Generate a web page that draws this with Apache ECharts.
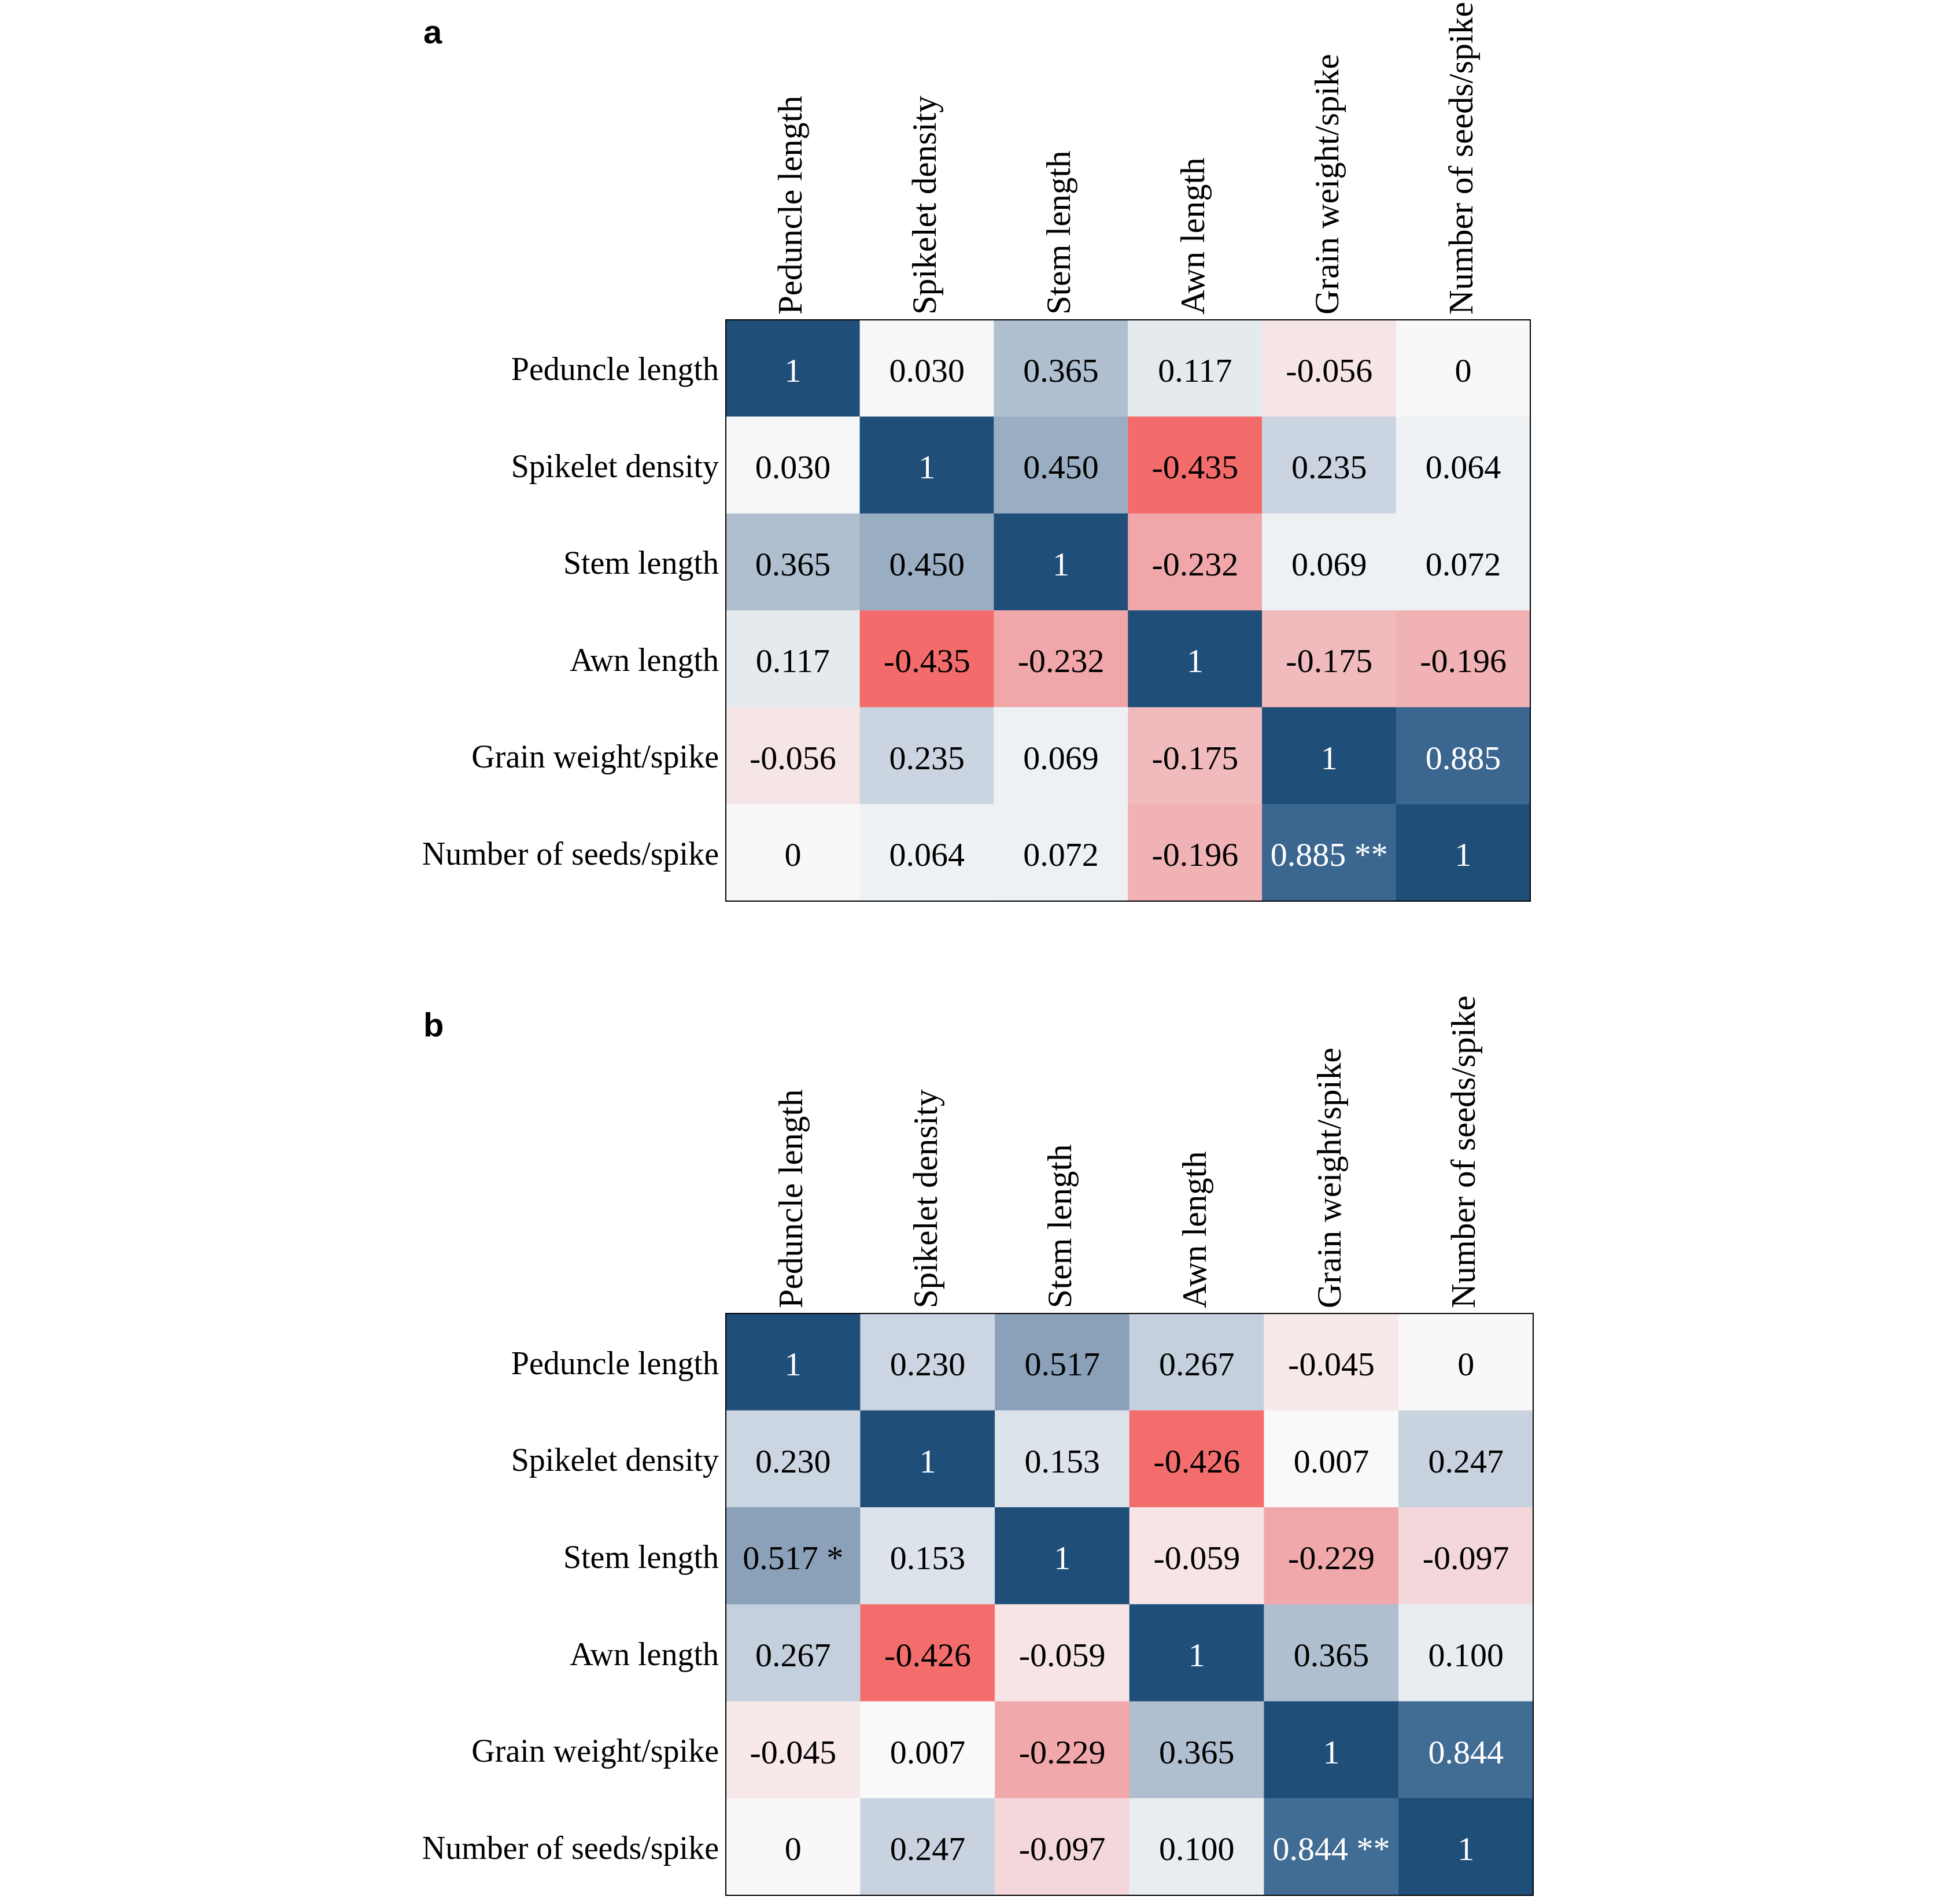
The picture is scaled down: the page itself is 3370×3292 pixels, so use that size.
<!DOCTYPE html>
<html>
<head>
<meta charset="utf-8">
<title>Correlation heatmaps</title>
<script src="https://cdn.jsdelivr.net/npm/echarts@6/dist/echarts.min.js"></script>
<style>
  html, body {
    margin: 0;
    padding: 0;
    background: #fff;
  }
  #chart {
    width: 3370px;
    height: 3292px;
  }
</style>
</head>
<body>
<div id="chart"></div>
<script>
// traits, same order on both axes
const traits = ['Peduncle length', 'Spikelet density', 'Stem length', 'Awn length', 'Grain weight/spike', 'Number of seeds/spike']

// panel a correlation matrix (rows top to bottom)
const corrA = [
  [1, 0.030, 0.365, 0.117, -0.056, 0],
  [0.030, 1, 0.450, -0.435, 0.235, 0.064],
  [0.365, 0.450, 1, -0.232, 0.069, 0.072],
  [0.117, -0.435, -0.232, 1, -0.175, -0.196],
  [-0.056, 0.235, 0.069, -0.175, 1, 0.885],
  [0, 0.064, 0.072, -0.196, 0.885, 1]
]
const sigA = [
  ['', '', '', '', '', ''],
  ['', '', '', '', '', ''],
  ['', '', '', '', '', ''],
  ['', '', '', '', '', ''],
  ['', '', '', '', '', ''],
  ['', '', '', '', '**', '']
]

// panel b correlation matrix
const corrB = [
  [1, 0.230, 0.517, 0.267, -0.045, 0],
  [0.230, 1, 0.153, -0.426, 0.007, 0.247],
  [0.517, 0.153, 1, -0.059, -0.229, -0.097],
  [0.267, -0.426, -0.059, 1, 0.365, 0.100],
  [-0.045, 0.007, -0.229, 0.365, 1, 0.844],
  [0, 0.247, -0.097, 0.100, 0.844, 1]
]
const sigB = [
  ['', '', '', '', '', ''],
  ['', '', '', '', '', ''],
  ['*', '', '', '', '', ''],
  ['', '', '', '', '', ''],
  ['', '', '', '', '', ''],
  ['', '', '', '', '**', '']
]

const serif = 'Liberation Serif, Times New Roman, serif'

// red -> white -> blue, stops every 0.1 from -0.49 to 1.01
const palette = [
  '#f35a5a', '#f47878', '#f19698', '#f1b4b7', '#f4dadd', '#fafafa',
  '#e6ebef', '#d0d9e4', '#bcc9d9', '#a4b6c9', '#8ca2ba', '#7591ae',
  '#5e80a3', '#477097', '#36638d', '#1c4c77'
]

function fmt(v) {
  if (v === 1 || v === 0) return String(v)
  return v.toFixed(3)
}

// heatmap items [x, y, value], text in white on the dark cells
function buildData(mat, sig) {
  let out = []
  mat.forEach((row, r) => {
    row.forEach((v, c) => {
      let txt = fmt(v) + (sig[r][c] ? ' ' + sig[r][c] : '')
      out.push({
        value: [c, r, v],
        txt: txt,
        label: { color: v > 0.8 ? '#fff' : '#000' }
      })
    })
  })
  return out
}

function xAx(gi) {
  return {
    type: 'category',
    gridIndex: gi,
    data: traits,
    position: 'top',
    axisLine: { show: false },
    axisTick: { show: false },
    splitLine: { show: false },
    axisLabel: {
      rotate: -90,
      margin: 9,
      fontSize: 59,
      fontFamily: serif,
      color: '#000',
      interval: 0
    }
  }
}

function yAx(gi) {
  return {
    type: 'category',
    gridIndex: gi,
    data: traits,
    inverse: true,
    axisLine: { show: false },
    axisTick: { show: false },
    splitLine: { show: false },
    axisLabel: {
      margin: 12,
      fontSize: 56,
      fontFamily: serif,
      color: '#000',
      // short line box hung from the tick: nudges text a few px down
      verticalAlign: 'top',
      lineHeight: 12,
      interval: 0
    }
  }
}

function heat(gi, mat, sig) {
  return {
    type: 'heatmap',
    xAxisIndex: gi,
    yAxisIndex: gi,
    data: buildData(mat, sig),
    label: {
      show: true,
      fontSize: 58,
      fontFamily: serif,
      offset: [0, 8],
      formatter: (p) => p.data.txt
    },
    emphasis: { disabled: true }
  }
}

let chartDom = document.getElementById('chart')
let myChart = echarts.init(chartDom, null, { renderer: 'canvas' })

myChart.setOption({
  backgroundColor: '#fff',
  animation: false,
  grid: [
    { left: 1255, top: 553, width: 1391, height: 1005, show: true, z: 10, borderColor: '#000', borderWidth: 2, backgroundColor: 'transparent' },
    { left: 1255, top: 2271, width: 1396, height: 1006, show: true, z: 10, borderColor: '#000', borderWidth: 2, backgroundColor: 'transparent' }
  ],
  xAxis: [xAx(0), xAx(1)],
  yAxis: [yAx(0), yAx(1)],
  visualMap: {
    show: false,
    type: 'continuous',
    min: -0.49,
    max: 1.01,
    dimension: 2,
    seriesIndex: [0, 1],
    inRange: { color: palette }
  },
  graphic: [
    { type: 'text', left: 732, top: 30, style: { text: 'a', font: 'bold 58px Liberation Sans, Arial, sans-serif', fill: '#000' } },
    { type: 'text', left: 732, top: 1747, style: { text: 'b', font: 'bold 58px Liberation Sans, Arial, sans-serif', fill: '#000' } }
  ],
  series: [heat(0, corrA, sigA), heat(1, corrB, sigB)]
})
</script>
</body>
</html>
